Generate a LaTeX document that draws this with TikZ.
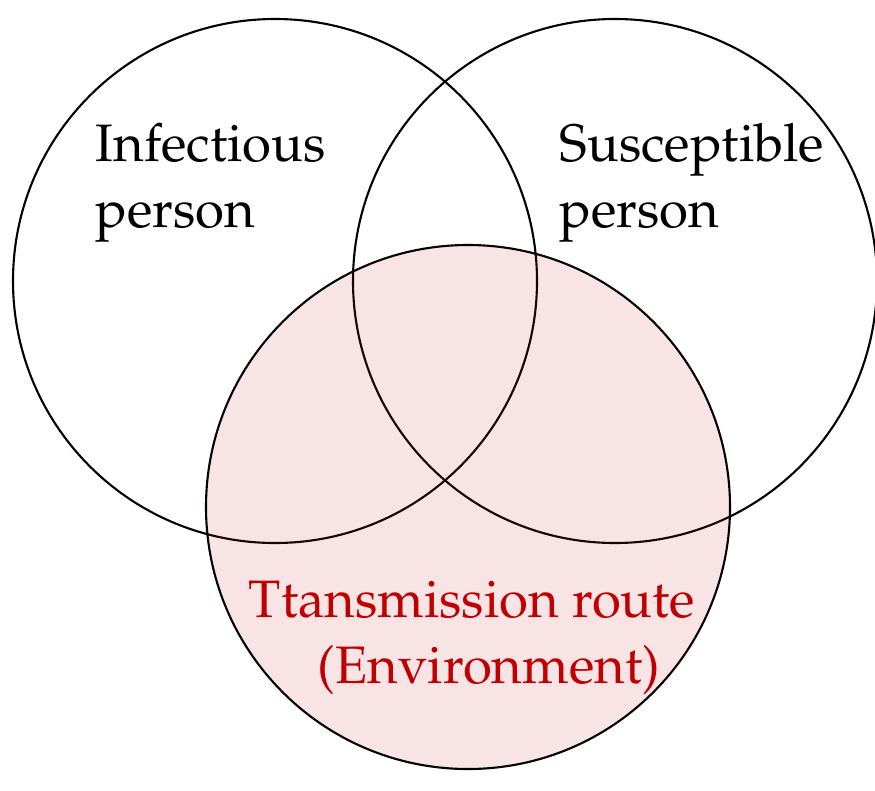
\documentclass[tikz,border=0pt]{standalone}
\usepackage[T1]{fontenc}
\usepackage{mathpazo}
\usepackage{xcolor}
\definecolor{routered}{RGB}{192,0,0}
\definecolor{routefill}{RGB}{200,30,40}

\begin{document}
\begin{tikzpicture}
        \tikzset{venn/.style={
            draw,
            semithick,
            circle,
            inner sep = 0pt,
            minimum size = 5.24cm
        }}
        \tikzset{label/.style={
            anchor = base west,
            align = left,
            inner sep = 0pt,
            font = \fontsize{15}{18.5}\selectfont
        }}
        \useasboundingbox (0,0) rectangle (8.75,7.9);

        % the two persons
        \node[venn] (infect) at (2.75, 5.09) {};
        \node[venn] (suscep) at (6.15, 5.09) {};
        % the route on top, lightly tinted
        \node[venn, fill = routefill, fill opacity = 0.12] (route) at (4.68, 2.83) {};

        \node[label] (infectTxt) at (0.95, 5.63) {Infectious\\person};
        \node[label] (suscepTxt) at (5.59, 5.63) {Susceptible\\person};
        \node[label, text = routered] (routeTxt) at (2.48, 1.07) {Ttansmission route\\\hspace*{0.69cm}(Environment)};
    \end{tikzpicture}
\end{document}
